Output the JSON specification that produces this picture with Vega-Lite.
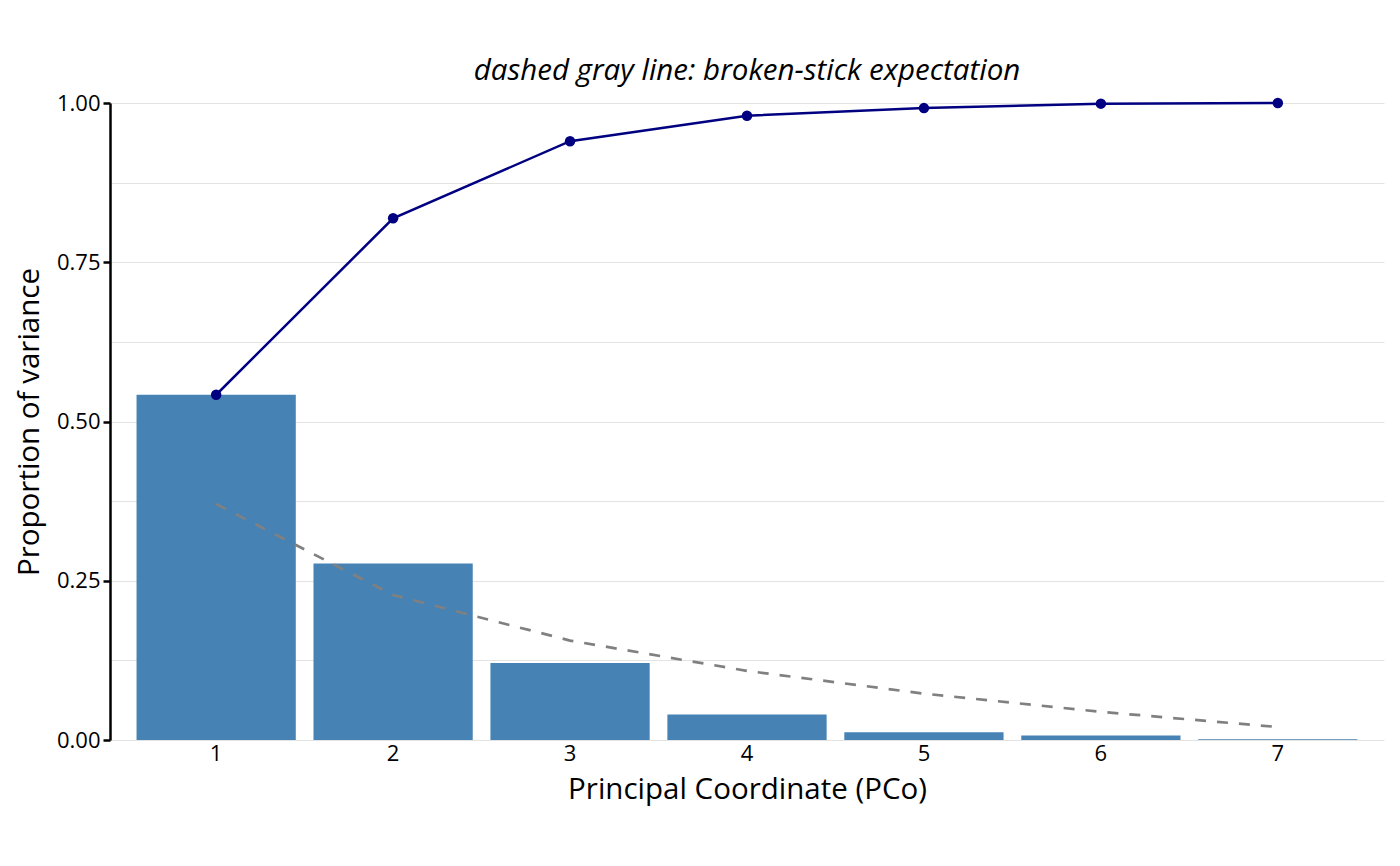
{
  "$schema": "https://vega.github.io/schema/vega-lite/v6.json",
  "width": 1274,
  "height": 637,
  "autosize": {"type": "none"},
  "padding": {"left": 110, "top": 103, "right": 16, "bottom": 126},
  "background": "white",
  "config": {
    "font": "Open Sans",
    "view": {"stroke": null}
  },
  "title": {
    "text": "dashed gray line: broken-stick expectation",
    "font": "Open Sans",
    "fontSize": 29.5,
    "fontStyle": "italic",
    "fontWeight": "normal",
    "color": "black",
    "anchor": "middle",
    "offset": 6
  },
  "data": {
    "values": [
      {"pco": "1", "prop": 0.542, "cum": 0.542, "bstick": 0.3704},
      {"pco": "2", "prop": 0.277, "cum": 0.819, "bstick": 0.2276},
      {"pco": "3", "prop": 0.121, "cum": 0.940, "bstick": 0.1561},
      {"pco": "4", "prop": 0.040, "cum": 0.980, "bstick": 0.1085},
      {"pco": "5", "prop": 0.012, "cum": 0.992, "bstick": 0.0728},
      {"pco": "6", "prop": 0.007, "cum": 0.999, "bstick": 0.0442},
      {"pco": "7", "prop": 0.001, "cum": 1.000, "bstick": 0.0204}
    ]
  },
  "encoding": {
    "x": {
      "field": "pco",
      "type": "ordinal",
      "scale": {"type": "band", "paddingInner": 0.1, "paddingOuter": 0.15},
      "axis": {
        "title": "Principal Coordinate (PCo)",
        "titleFontSize": 29.5,
        "titleFontWeight": "normal",
        "titleColor": "black",
        "titlePadding": 11,
        "labelAngle": 0,
        "labelFontSize": 22,
        "labelColor": "black",
        "labelPadding": 3,
        "domain": false,
        "ticks": false,
        "grid": false
      }
    }
  },
  "layer": [
    {
      "mark": {"type": "bar", "color": "#4682b4"},
      "encoding": {
        "y": {
          "field": "prop",
          "type": "quantitative",
          "scale": {"domain": [0, 1], "nice": false, "zero": true},
          "axis": {
            "title": "Proportion of variance",
            "titleFontSize": 29.5,
            "titleFontWeight": "normal",
            "titleColor": "black",
            "titlePadding": 12,
            "values": [0, 0.125, 0.25, 0.375, 0.5, 0.625, 0.75, 0.875, 1],
            "labelExpr": "datum.value % 0.25 < 0.001 ? format(datum.value, '.2f') : ''",
            "labelFontSize": 22,
            "labelColor": "black",
            "labelPadding": 3,
            "domain": true,
            "domainColor": "black",
            "domainWidth": 2.5,
            "tickSize": 7,
            "tickWidth": 2.5,
            "tickColor": {"condition": {"test": "datum.value % 0.25 > 0.001", "value": "transparent"}, "value": "black"},
            "grid": true,
            "gridColor": "#e3e3e3",
            "gridWidth": 1
          }
        }
      }
    },
    {
      "mark": {"type": "line", "color": "#808080", "strokeWidth": 2.7, "strokeDash": [11, 11]},
      "encoding": {
        "y": {"field": "bstick", "type": "quantitative"}
      }
    },
    {
      "mark": {"type": "line", "color": "#000080", "strokeWidth": 2.5, "clip": false},
      "encoding": {
        "y": {"field": "cum", "type": "quantitative"}
      }
    },
    {
      "mark": {"type": "point", "filled": true, "color": "#000080", "size": 110, "opacity": 1, "clip": false},
      "encoding": {
        "y": {"field": "cum", "type": "quantitative"}
      }
    }
  ]
}
